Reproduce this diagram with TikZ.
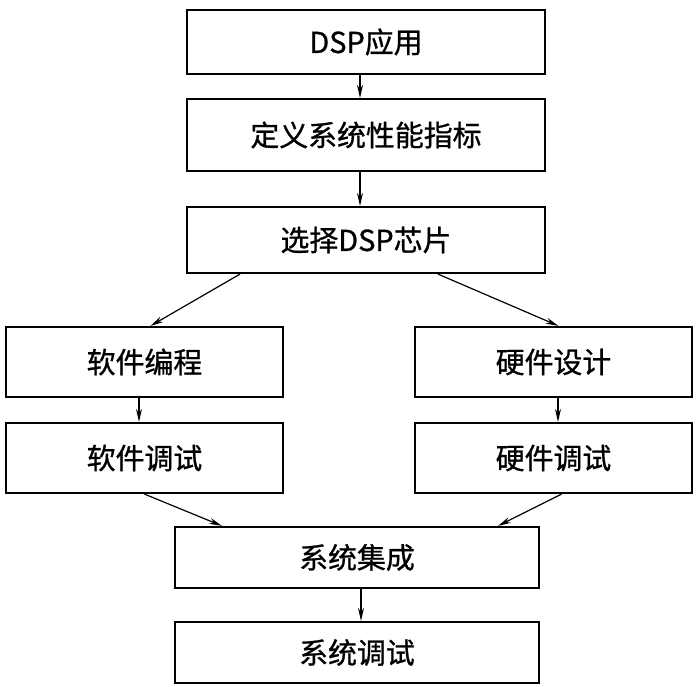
\documentclass[tikz,border=0pt]{standalone}
\usepackage{fontspec}
\setmainfont{Noto Sans CJK SC}
\newfontfamily\labelfont{Noto Sans CJK SC}[FakeBold=0.9]
\usepackage{tikz}
\usetikzlibrary{arrows.meta,positioning}

\begin{document}
\begin{tikzpicture}[x=1bp, y=-1bp, >={Stealth[length=13bp,width=6bp]},
  box/.style={draw, line width=2.2bp, minimum width=358bp, minimum height=64bp,
    inner sep=0pt, font=\labelfont\fontsize{29}{34}\selectfont},
  half/.style={box, minimum width=277bp, minimum height=70bp},
  wide/.style={box, minimum width=364bp, minimum height=61bp},
  flow/.style={->, line width=1.2bp}]

  \useasboundingbox (0,0) rectangle (696,687);

  % Define boxes
  \node[box] (app) at (366, 42) {DSP应用};
  \node[box, minimum height=72bp] (spec) at (366, 135) {定义系统性能指标};
  \node[box, minimum height=66bp] (chip) at (366, 240) {选择DSP芯片};
  \node[half] (swcode) at (144.5, 362) {软件编程};
  \node[half] (hwdes) at (553.5, 362) {硬件设计};
  \node[half] (swdbg) at (144.5, 458) {软件调试};
  \node[half] (hwdbg) at (553.5, 458) {硬件调试};
  \node[wide] (integ) at (357, 557.5) {系统集成};
  \node[wide] (sysdbg) at (357, 652.5) {系统调试};

  % Draw arrows between boxes
  \draw[flow] ([xshift=-6bp]app.south) -- ([xshift=-6bp]spec.north);
  \draw[flow] ([xshift=-6bp]spec.south) -- ([xshift=-6bp]chip.north);
  \draw[flow] ([xshift=-126bp]chip.south) -- ([xshift=6bp]swcode.north);
  \draw[flow] ([xshift=72bp]chip.south) -- ([xshift=5bp]hwdes.north);
  \draw[flow] ([xshift=-5.5bp]swcode.south) -- ([xshift=-5.5bp]swdbg.north);
  \draw[flow] ([xshift=4.5bp]hwdes.south) -- ([xshift=4.5bp]hwdbg.north);
  \draw[flow] (swdbg.south) -- ([xshift=-135bp]integ.north);
  \draw[flow] ([xshift=8bp]hwdbg.south) -- ([xshift=141bp]integ.north);
  \draw[flow] ([xshift=4bp]integ.south) -- ([xshift=4bp]sysdbg.north);
\end{tikzpicture}
\end{document}
